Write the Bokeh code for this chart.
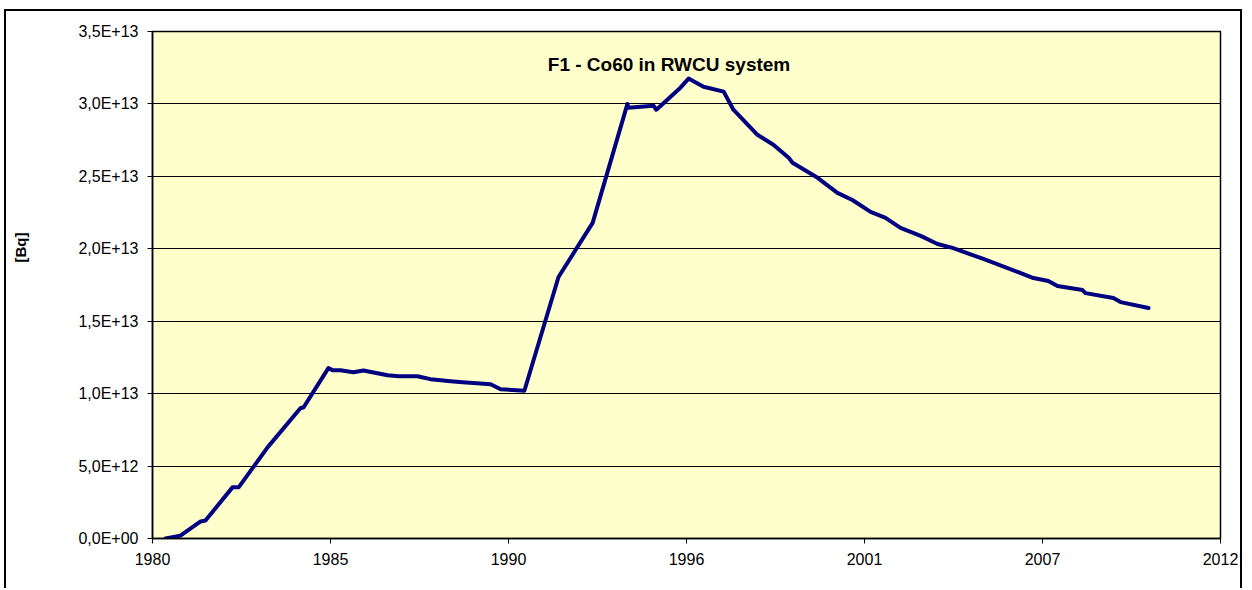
import pandas as pd
from bokeh.plotting import figure
from bokeh.models import Range1d, FixedTicker, DatetimeTickFormatter, Label
from bokeh.embed import file_html
from bokeh.resources import INLINE

# ---- data (decimal year, activity in Bq) ----
years = [1980.40, 1980.86, 1981.48, 1981.63, 1982.46, 1982.65, 1983.54, 1984.55,
         1984.65, 1985.41, 1985.54, 1985.78, 1986.18, 1986.49, 1987.23, 1987.57,
         1988.15, 1988.55, 1989.17, 1989.54, 1990.40, 1990.71, 1991.44, 1992.49,
         1993.54, 1994.61, 1994.64, 1995.41, 1995.50, 1996.24, 1996.49, 1996.95,
         1997.57, 1997.87, 1998.61, 1999.10, 1999.57, 1999.69, 2000.46, 2001.07,
         2001.53, 2002.09, 2002.55, 2003.01, 2003.63, 2004.15, 2004.61, 2005.47,
         2005.56, 2006.61, 2007.10, 2007.56, 2007.84, 2008.61, 2008.70, 2009.56,
         2009.78, 2010.64]
activity = [0.000e13, 0.020e13, 0.118e13, 0.124e13, 0.353e13, 0.353e13, 0.629e13, 0.899e13,
            0.906e13, 1.176e13, 1.162e13, 1.162e13, 1.148e13, 1.160e13, 1.127e13, 1.120e13,
            1.120e13, 1.100e13, 1.086e13, 1.079e13, 1.065e13, 1.030e13, 1.020e13, 1.805e13,
            2.179e13, 3.000e13, 2.974e13, 2.988e13, 2.960e13, 3.112e13, 3.175e13, 3.119e13,
            3.085e13, 2.960e13, 2.787e13, 2.718e13, 2.628e13, 2.594e13, 2.490e13, 2.386e13,
            2.337e13, 2.255e13, 2.213e13, 2.144e13, 2.089e13, 2.033e13, 2.006e13, 1.937e13,
            1.930e13, 1.840e13, 1.798e13, 1.778e13, 1.743e13, 1.715e13, 1.694e13, 1.660e13,
            1.632e13, 1.591e13]

y_ticks = [0, 5e12, 1e13, 1.5e13, 2e13, 2.5e13, 3e13, 3.5e13]
y_tick_labels = ["0,0E+00", "5,0E+12", "1,0E+13", "1,5E+13", "2,0E+13", "2,5E+13", "3,0E+13", "3,5E+13"]
x_start = "1980-01-01"
x_step_days = 2000
x_n_ticks = 7
title_text = "F1 - Co60 in RWCU system"
y_label = "[Bq]"

# ---- conversions ----
t0 = pd.Timestamp(x_start)
dates = [t0 + pd.Timedelta(days=(y - 1980.0) * 365.25) for y in years]
tick_dates = [t0 + pd.Timedelta(days=k * x_step_days) for k in range(x_n_ticks)]
to_ms = lambda d: d.value / 1e6
x0, x1 = to_ms(tick_dates[0]), to_ms(tick_dates[-1])
Y_MAX = y_ticks[-1]

FONT = "Liberation Sans"

# frame in page pixels: left 152, right 1221, top 32, bottom 538
FL, FR, FT, FB = 152, 1221, 32, 538
def px_to_x(px):
    return x0 + (px - FL) / (FR - FL) * (x1 - x0)
def px_to_y(py):
    return Y_MAX * (FB - py) / (FB - FT)

p = figure(width=1238, height=579, x_axis_type="datetime",
           output_backend="svg", toolbar_location=None,
           x_range=Range1d(x0, x1), y_range=Range1d(0, Y_MAX),
           min_border_left=146, min_border_right=24, min_border_top=20, min_border_bottom=52)
p.margin = (9, 0, 0, 4)
p.styles = {"border-top": "2px solid black", "border-left": "2px solid black",
            "border-right": "2px solid black", "box-sizing": "border-box"}

p.background_fill_color = "#FFFFCC"
p.border_fill_color = "white"
p.outline_line_color = "black"
p.outline_line_width = 1.5

p.line(dates, activity, line_color="#000080", line_width=4, line_join="round", line_cap="round")

# axes
p.xaxis.ticker = FixedTicker(ticks=[to_ms(d) for d in tick_dates])
p.xaxis.formatter = DatetimeTickFormatter(years="%Y", months="%Y", days="%Y", hours="%Y",
                                          minutes="%Y", seconds="%Y", milliseconds="%Y",
                                          microseconds="%Y", minsec="%Y", hourmin="%Y")
p.yaxis.ticker = FixedTicker(ticks=y_ticks)
p.yaxis.major_label_overrides = {t: l for t, l in zip(y_ticks, y_tick_labels)}

for ax in (p.xaxis, p.yaxis):
    ax.major_label_text_font = FONT
    ax.major_label_text_font_size = "16px"
    ax.major_label_text_color = "black"
    ax.axis_line_color = "black"
    ax.axis_line_width = 1.5
    ax.major_tick_line_color = "black"
    ax.major_tick_in = 0
    ax.major_tick_out = 5
    ax.minor_tick_line_color = None
    ax.major_label_standoff = 9

# y axis title: non-breaking spaces before the text lift it above the centre, as in the original
p.yaxis.axis_label = "\u00a0" * 18 + y_label
p.yaxis.axis_label_text_font = FONT
p.yaxis.axis_label_text_font_style = "bold"
p.yaxis.axis_label_text_font_size = "15px"
p.yaxis.axis_label_text_color = "black"
p.yaxis.axis_label_standoff = 46

p.xgrid.grid_line_color = None
p.ygrid.grid_line_color = "black"
p.ygrid.grid_line_width = 1
p.ygrid.ticker = FixedTicker(ticks=y_ticks)

# chart title inside the plot area
p.add_layout(Label(x=px_to_x(669), y=px_to_y(65), text=title_text, text_font=FONT,
                   text_font_style="bold", text_font_size="19px", text_align="center",
                   text_baseline="alphabetic", text_color="black"))

open("out.html", "w").write(file_html(p, INLINE))
